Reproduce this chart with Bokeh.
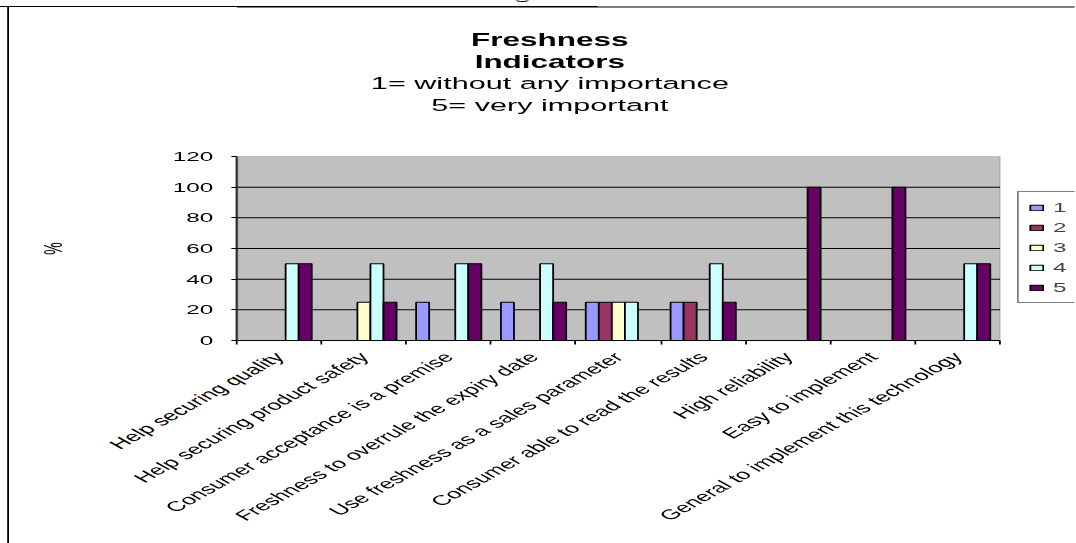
import numpy as np
from bokeh.plotting import figure
from bokeh.models import (Range1d, FixedTicker, Legend, LegendItem, Label,
                          BoxAnnotation, Span, LinearAxis)
from bokeh.embed import file_html
from bokeh.resources import INLINE

# ---- data -------------------------------------------------------------
categories = [
    "Help securing quality",
    "Help securing product safety",
    "Consumer acceptance is a premise",
    "Freshness to overrule the expiry date",
    "Use freshness as a sales parameter",
    "Consumer able to read the results",
    "High reliability",
    "Easy to implement",
    "General to implement this technology",
]
series_names = ["1", "2", "3", "4", "5"]
score_1 = [0, 0, 25, 25, 25, 25, 0, 0, 0]
score_2 = [0, 0, 0, 0, 25, 25, 0, 0, 0]
score_3 = [0, 25, 0, 0, 25, 0, 0, 0, 0]
score_4 = [50, 50, 50, 50, 25, 50, 0, 0, 50]
score_5 = [50, 25, 50, 25, 0, 25, 100, 100, 50]
y_ticks = [0, 20, 40, 60, 80, 100, 120]
y_title = "%"

title_lines = ["Freshness", "Indicators"]
subtitle_lines = ["1= without any importance", "5= very important"]
caption = "Figure 5"

colors = ["#9999FF", "#993366", "#FFFFCC", "#CCFFFF", "#660066"]
FONT = "Liberation Sans"

# ---- page geometry ----------------------------------------------------
# The chart is laid out narrow and widened horizontally on the page; the
# element's css width is the pre-stretch width so that the measured
# (stretched) box equals the canvas width W.
STRETCH = 1.8
W, H = 598, 543
PLOT_LEFT, PLOT_RIGHT = 131, 556      # grey plot area, canvas px
PLOT_TOP, PLOT_BOTTOM = 156, 340
PAGE_RULE_Y = 6                       # top rule of the page frame

n_cat = len(categories)
y_max = y_ticks[-1]
# the frame runs from the top of the canvas to its right edge, so the data
# ranges are extended past the grey area to leave room for titles and legend
x_end = n_cat * (W - PLOT_LEFT) / (PLOT_RIGHT - PLOT_LEFT)
y_per_px = y_max / (PLOT_BOTTOM - PLOT_TOP)
y_end = y_per_px * PLOT_BOTTOM

p = figure(width=W, height=H, x_range=Range1d(0, x_end),
           y_range=Range1d(0, y_end), output_backend="svg",
           toolbar_location=None, min_border_left=PLOT_LEFT, min_border_right=0,
           min_border_top=0, min_border_bottom=H - PLOT_BOTTOM,
           background_fill_alpha=0, border_fill_alpha=0,
           outline_line_color=None)
p.styles = {
    "width": f"{W / STRETCH:.3f}px",
    "height": f"{H}px",
    "overflow": "visible",
    "transform": f"scaleX({STRETCH})",
    "transform-origin": "0 0",
    # page frame: a rule along the top and down the left side
    "background": (f"linear-gradient(#000,#000) 0px {PAGE_RULE_Y}px / 100% 1px no-repeat, "
                   f"linear-gradient(#000,#000) 4px {PAGE_RULE_Y}px / 1px 100% no-repeat, "
                   "#ffffff"),
}
# the top rule continued across the frame
p.add_layout(Span(location=y_per_px * (PLOT_BOTTOM - PAGE_RULE_Y) - 0.3,
                  dimension="width", line_color="black", line_width=1))

# ---- grey plot area and grid -------------------------------------------
p.add_layout(BoxAnnotation(left=0, right=n_cat, bottom=0, top=y_max,
                           fill_color="#C0C0C0", fill_alpha=1,
                           line_color="#808080", line_width=1,
                           level="underlay"))
grid_levels = y_ticks[1:-1]
p.segment(x0=[0] * len(grid_levels), x1=[n_cat] * len(grid_levels),
          y0=grid_levels, y1=grid_levels, line_color="black", line_width=1)

# ---- clustered bars ---------------------------------------------------
all_series = [score_1, score_2, score_3, score_4, score_5]
centers = np.arange(n_cat) + 0.5
bar_w = 1 / (len(all_series) + 1.5)
renderers = []
for i, (vals, col) in enumerate(zip(all_series, colors)):
    x = centers + (i - (len(all_series) - 1) / 2) * bar_w
    r = p.vbar(x=x, top=vals, bottom=0, width=bar_w, fill_color=col,
               line_color="black", line_width=1)
    renderers.append(r)

# ---- axes -------------------------------------------------------------
p.xgrid.visible = False
p.ygrid.visible = False

xa = p.xaxis[0]
xa.bounds = (0, n_cat)
xa.ticker = FixedTicker(ticks=list(centers), minor_ticks=list(np.arange(n_cat + 1)))
xa.major_label_overrides = {float(c): lab for c, lab in zip(centers, categories)}
xa.major_label_orientation = np.pi / 4
xa.major_tick_out = 0
xa.major_tick_in = 0
xa.minor_tick_out = 4
xa.minor_tick_in = 0
xa.minor_tick_line_color = "black"
xa.axis_line_color = "black"
xa.major_label_text_font = FONT
xa.major_label_text_font_size = "14px"
xa.major_label_text_color = "black"
xa.major_label_standoff = 10

ya = p.yaxis[0]
ya.bounds = (0, y_max)
ya.ticker = FixedTicker(ticks=y_ticks)
ya.major_tick_out = 3
ya.major_tick_in = 0
ya.minor_tick_out = 0
ya.minor_tick_in = 0
ya.axis_line_color = "black"
ya.major_tick_line_color = "black"
ya.major_label_text_font = FONT
ya.major_label_text_font_size = "13.5px"
ya.major_label_text_color = "black"
ya.major_label_standoff = 10

# axis title, centred on the 0..max span of the value axis
y_mid = y_max / 2
title_axis = LinearAxis(ticker=FixedTicker(ticks=[y_mid]),
                        major_label_overrides={y_mid: y_title},
                        major_label_orientation="vertical",
                        axis_line_color=None, major_tick_line_color=None,
                        minor_tick_line_color=None, major_label_standoff=49,
                        major_label_text_font=FONT,
                        major_label_text_font_size="14px",
                        major_label_text_color="black")
p.add_layout(title_axis, "left")

# ---- legend, right of the grey area (offsets from the frame's lower left)
legend = Legend(items=[LegendItem(label=n, renderers=[r])
                       for n, r in zip(series_names, renderers)],
                location=(565 - PLOT_LEFT, 37), margin=0, padding=5, spacing=0,
                glyph_width=9, glyph_height=7, label_standoff=5,
                label_width=8, label_height=20,
                label_text_font=FONT, label_text_font_size="13.5px",
                border_line_color="black", border_line_width=1,
                background_fill_color="white", background_fill_alpha=1)
p.add_layout(legend)

# ---- title block and page caption (screen offsets from frame lower left)
title_cx = 305 - PLOT_LEFT
title_rows = ([(t, "bold", "17.5px") for t in title_lines] +
              [(t, "normal", "17px") for t in subtitle_lines])
for k, (txt, style, size) in enumerate(title_rows):
    p.add_layout(Label(x=title_cx, y=PLOT_BOTTOM - 40 - 21.7 * k,
                       x_units="screen", y_units="screen", text=txt,
                       text_align="center", text_baseline="middle",
                       text_font=FONT, text_font_size=size,
                       text_font_style=style, text_color="black"))

p.add_layout(Label(x=300 - PLOT_LEFT, y=PLOT_BOTTOM - 0.5, x_units="screen",
                   y_units="screen", text=caption, text_align="center",
                   text_baseline="bottom", text_font="Liberation Serif",
                   text_font_size="16px", text_font_style="bold",
                   text_color="black"))

open("out.html", "w").write(file_html(p, INLINE))
